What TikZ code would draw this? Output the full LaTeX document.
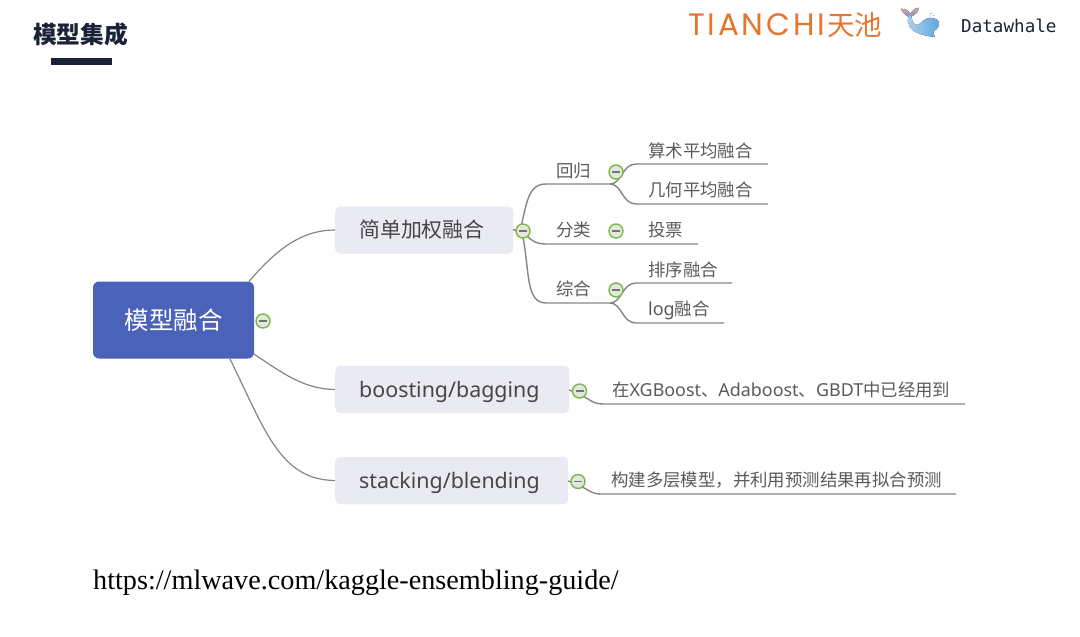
\documentclass[tikz,border=0pt]{standalone}
\usepackage{fontspec}
\setmainfont{Noto Sans CJK SC}
\newfontfamily\latinfont{Noto Sans}
\newfontfamily\urlfont{Liberation Serif}
\newfontfamily\monofont{DejaVu Sans Mono}
\newfontfamily\logofont[LetterSpace=9]{Poppins}
\definecolor{rootblue}{HTML}{4A62B8}
\definecolor{subgray}{HTML}{EAEBF2}
\definecolor{linegray}{HTML}{858585}
\definecolor{textgray}{HTML}{5A5A5A}
\definecolor{dark}{HTML}{1A2238}
\definecolor{logoorange}{HTML}{E5752F}
\definecolor{minusgreen}{HTML}{7DB548}
\definecolor{minusfill}{HTML}{E3E8DE}
\definecolor{whaleA}{HTML}{A9CFEC}
\definecolor{whaleB}{HTML}{5FA6DC}
\definecolor{tailA}{HTML}{D9A8A0}
\definecolor{tailB}{HTML}{7D97C8}
\tikzset{
  x=1pt,y=-1pt,
  rootbox/.style={draw=none,fill=rootblue,rounded corners=6pt,inner sep=0pt,text=white,minimum width=161pt,minimum height=77pt,font=\fontsize{24.5}{25}\selectfont},
  subbox/.style={fill=subgray,rounded corners=5pt,inner sep=0pt,minimum height=47.5pt,text=black!75,anchor=west},
  linkline/.style={draw=linegray,line width=1.4pt},
  rootlink/.style={draw=linegray,line width=1.2pt},
  leaftext/.style={anchor=base west,inner sep=0pt,text=textgray,font=\fontsize{17.4}{18}\selectfont},
  collapse/.style={circle,draw=minusgreen,fill=minusfill,line width=1.4pt,minimum size=14pt,inner sep=0pt,
    path picture={\draw[draw=black!55,line width=1.2pt] ([xshift=-4pt]path picture bounding box.center) -- ([xshift=4pt]path picture bounding box.center);}},
}
\begin{document}
\begin{tikzpicture}
\useasboundingbox (0,0) rectangle (1080,637);
% header
\node[anchor=base west,inner sep=0pt,text=dark,font=\fontsize{23.7}{24}\bfseries\selectfont] (title) at (33,43.5) {模型集成};
\fill[dark] (51,58) rectangle (112,65);
\node[anchor=base west,inner sep=0pt,text=logoorange,font=\logofont\fontsize{31}{31}\selectfont] (tc) at (688,35) {TIANCHI};
\node[anchor=base west,inner sep=0pt,text=logoorange,font=\fontsize{27.5}{28}\selectfont] (tc2) at (827,35) {天池};
% whale
\fill[left color=tailA,right color=tailB,shading angle=0] (901,8.7) .. controls (906,9) and (909,11) .. (910.5,14) .. controls (912,10.5) and (915,8) .. (919,7.7) .. controls (918.5,12) and (914.5,15) .. (911.5,16.5) -- (908.5,17) .. controls (905,15) and (902,12) .. (901,8.7) -- cycle;
\fill[left color=whaleB!50,right color=whaleB] (908.5,16) .. controls (906,24) and (911,31) .. (919,33.5) .. controls (924,35.5) and (930,36.5) .. (935,37) .. controls (933.5,34.5) and (933,33) .. (933.5,31.5) .. controls (937,29.5) and (939.5,26) .. (939,22) .. controls (937,18.5) and (932,17) .. (927,18.5) .. controls (922,20) and (920,25) .. (917,25) .. controls (913.5,25) and (911.5,20) .. (911.5,16) -- cycle;
\fill[whaleB!70] (931,13.5) circle (1pt) (933.5,15.5) circle (0.8pt) (930,16) circle (0.7pt);
\node[anchor=base west,inner sep=0pt,text=dark,font=\monofont\fontsize{17.6}{18}\selectfont] (dw) at (961,32) {Datawhale};
% main nodes
\node[rootbox] (root) at (173.5,320) {模型融合};
\node[subbox,minimum width=178pt] (s1) at (335,230) {};
\node[subbox,minimum width=234pt] (s2) at (335,389.5) {};
\node[subbox,minimum width=233pt] (s3) at (335,480.5) {};
\node[anchor=base west,inner sep=0pt,text=black!72,font=\fontsize{20.9}{22}\selectfont] (t1) at (359,237.5) {简单加权融合};
\node[anchor=base west,inner sep=0pt,text=black!72,font=\latinfont\fontsize{21.4}{22}\selectfont] (t2) at (359,397) {boosting/bagging};
\node[anchor=base west,inner sep=0pt,text=black!72,font=\latinfont\fontsize{21.4}{22}\selectfont] (t3) at (359,488) {stacking/blending};
% root links
\coordinate (r1) at (249,281.5);
\coordinate (r2) at (254,354);
\coordinate (r3) at (230,359);
\draw[rootlink] (r1) .. controls (280,245) and (305,230) .. (s1.west);
\draw[rootlink] (r2) .. controls (285,375) and (305,389) .. (s2.west);
\draw[rootlink] (r3) .. controls (265,430) and (280,480) .. (s3.west);
% branch coordinates
\coordinate (b0) at (513,230);
\coordinate (huigui) at (610,184);
\coordinate (fenlei) at (698,244);
\coordinate (zonghe) at (610,303);
\coordinate (l1) at (768,164);
\coordinate (l2) at (768,204);
\coordinate (l4) at (732,283);
\coordinate (l5) at (724,323);
\coordinate (l6) at (965,404);
\coordinate (l7) at (956,494);
\coordinate (c6) at (569,390);
\coordinate (c7) at (568,481);
% links
\draw[linkline] (b0) -- (520,230) .. controls (527,205) and (527,184) .. (546,184) -- (huigui);
\draw[linkline] (huigui) .. controls (622,184) and (622,164) .. (636,164) -- (l1);
\draw[linkline] (huigui) .. controls (622,184) and (622,204) .. (636,204) -- (l2);
\draw[linkline] (b0) -- (522,230) .. controls (530,240) and (535,244) .. (546,244) -- (fenlei);
\draw[linkline] (522,232) .. controls (530,270) and (525,303) .. (546,303) -- (zonghe);
\draw[linkline] (zonghe) .. controls (622,303) and (622,283) .. (636,283) -- (l4);
\draw[linkline] (zonghe) .. controls (622,303) and (622,323) .. (636,323) -- (l5);
\draw[linkline] (c6) .. controls (590,397) and (590,404) .. (603,404) -- (l6);
\draw[linkline] (c7) .. controls (589,488) and (589,494) .. (601,494) -- (l7);
% collapse markers
\node[collapse] (m0) at (263,321) {};
\node[collapse] (m1) at (523,231) {};
\node[collapse] (m2) at (616,172) {};
\node[collapse] (m3) at (616,231) {};
\node[collapse] (m4) at (616,290) {};
\node[collapse] (m5) at (579.5,391) {};
\node[collapse] (m6) at (578,481.5) {};
% leaf texts
\node[leaftext] (a1) at (556,177) {回归};
\node[leaftext] (a2) at (556,236) {分类};
\node[leaftext] (a3) at (556,295) {综合};
\node[leaftext] (b1) at (648,157) {算术平均融合};
\node[leaftext] (b2) at (648,196) {几何平均融合};
\node[leaftext] (b3) at (648,236) {投票};
\node[leaftext] (b4) at (648,276) {排序融合};
\node[leaftext] (b5) at (648,315) {{\latinfont\fontsize{18}{18}\selectfont log}融合};
\node[leaftext] (b6) at (612,396) {在{\latinfont\fontsize{17.9}{18}\selectfont XGBoost}、{\latinfont\fontsize{17.9}{18}\selectfont Adaboost}、{\latinfont\fontsize{17.9}{18}\selectfont GBDT}中已经用到};
\node[leaftext] (b7) at (611,486) {构建多层模型，并利用预测结果再拟合预测};
% url
\node[anchor=base west,inner sep=0pt,text=black,font=\urlfont\fontsize{28.2}{29}\selectfont] (url) at (93,589) {https://mlwave.com/kaggle-ensembling-guide/};
\end{tikzpicture}
\end{document}
